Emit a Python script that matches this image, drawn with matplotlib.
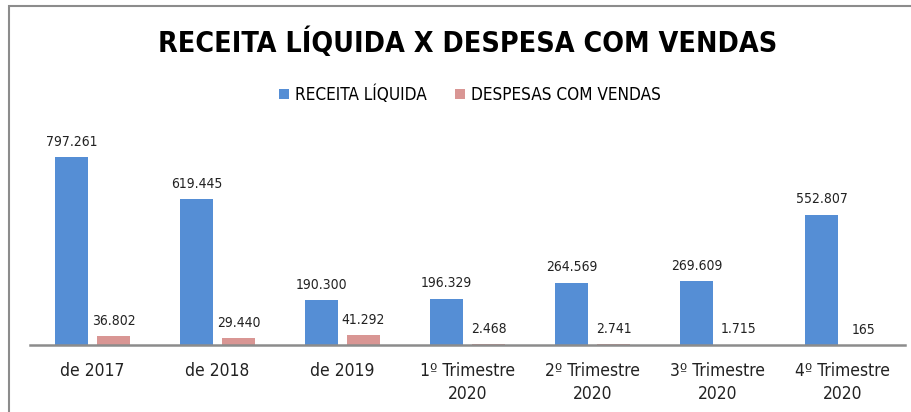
import numpy as np
import matplotlib.pyplot as plt
from matplotlib.patches import Rectangle

categorias = ['de 2017', 'de 2018', 'de 2019', '1º Trimestre\n2020',
              '2º Trimestre\n2020', '3º Trimestre\n2020', '4º Trimestre\n2020']
receita = [797261, 619445, 190300, 196329, 264569, 269609, 552807]
despesas = [36802, 29440, 41292, 2468, 2741, 1715, 165]

plt.rcParams['font.family'] = ['DejaVu Sans']
plt.rcParams['font.stretch'] = 'condensed'

azul = '#558ED5'
rosa = '#D99694'

fig = plt.figure(figsize=(9.12, 4.12), dpi=100)
ax = fig.add_axes([30/912, 1 - 345/412, 875/912, 225/412])

x = np.arange(len(categorias))
w = 0.264
off = 0.168
b1 = ax.bar(x - off, receita, w, color=azul, label='RECEITA LÍQUIDA')
b2 = ax.bar(x + off, despesas, w, color=rosa, label='DESPESAS COM VENDAS')

def fmt(v):
    return f"{v:,}".replace(',', '.')

ax.bar_label(b1, labels=[fmt(v) for v in receita], padding=6, fontsize=10, color='#222222')
ax.bar_label(b2, labels=[fmt(v) for v in despesas], padding=6, fontsize=10, color='#222222')

ax.set_xlim(-0.5, len(categorias) - 0.5)
ax.set_ylim(0, 954000)
ax.set_yticks([])
ax.set_xticks(x)
ax.set_xticklabels(categorias, fontsize=12.5, color='#222222', linespacing=1.4)
ax.tick_params(axis='x', length=0, pad=12)
for s in ['top', 'right', 'left']:
    ax.spines[s].set_visible(False)
ax.spines['bottom'].set_color('#8c8c8c')
ax.spines['bottom'].set_linewidth(1.8)

fig.text(468/912, 1 - 43/412, 'RECEITA LÍQUIDA X DESPESA COM VENDAS', ha='center', va='center',
         fontsize=20.5, fontweight='bold', color='black')

fig.legend(handles=[b1, b2], loc='center', bbox_to_anchor=(470/912, 1 - 95/412), ncol=2,
           frameon=False, fontsize=12.3, handlelength=0.55, handleheight=0.55,
           handletextpad=0.35, columnspacing=1.7)

# moldura do gráfico
fig.patches.append(Rectangle((9/912, -0.5), 2, 0.5 + (1 - 6/412), transform=fig.transFigure,
                             fill=False, edgecolor='#8c8c8c', linewidth=1.5))

fig.savefig('out.png', dpi=100)
